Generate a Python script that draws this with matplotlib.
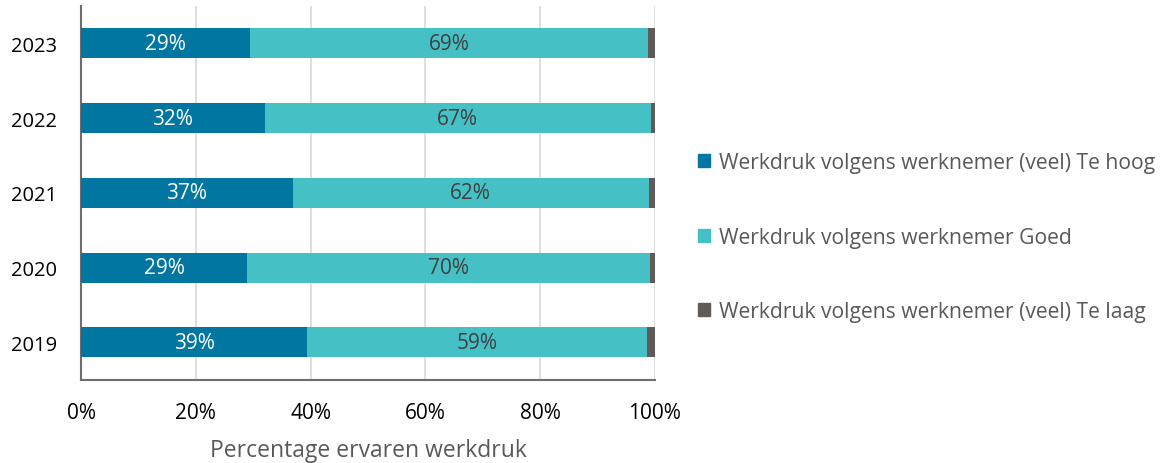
import matplotlib.pyplot as plt
from matplotlib.patches import Patch

plt.rcParams['font.family'] = ['Open Sans', 'DejaVu Sans']

# data
jaren = ['2019', '2020', '2021', '2022', '2023']
te_hoog = [39.4, 29.0, 36.9, 32.0, 29.4]
goed = [59.2, 70.1, 62.0, 67.3, 69.4]
te_laag = [1.4, 0.9, 1.1, 0.7, 1.2]
reeksen = ['Werkdruk volgens werknemer (veel) Te hoog',
           'Werkdruk volgens werknemer Goed',
           'Werkdruk volgens werknemer (veel) Te laag']

kleuren = ['#0076A0', '#45C1C6', '#605B58']
tekstkleur = ['white', '#404040', None]

fig = plt.figure(figsize=(11.65, 4.64), dpi=100)
ax = fig.add_axes([81 / 1165, 1 - 380.7 / 464, (655 - 81) / 1165, (380.7 - 7) / 464])

links = [0] * len(jaren)
for naam, waarden, kleur, tk in zip(reeksen, [te_hoog, goed, te_laag], kleuren, tekstkleur):
    bars = ax.barh(jaren, waarden, left=links, height=0.4, color=kleur, zorder=3)
    if tk:
        ax.bar_label(bars, labels=[f'{round(v)}%' for v in waarden], label_type='center',
                     color=tk, fontsize=15)
    links = [a + b for a, b in zip(links, waarden)]

ax.set_xlim(0, 100)
ax.set_ylim(-0.5, 4.5)
ax.set_xticks(range(0, 101, 20))
ax.set_xticklabels([f'{x}%' for x in range(0, 101, 20)])
ax.tick_params(axis='both', length=0, labelsize=15, colors='black')
ax.tick_params(axis='y', labelsize=14.5, pad=17)
ax.tick_params(axis='x', pad=16)
ax.grid(axis='x', color='#D9D9D9', lw=1.2, zorder=0)
ax.spines['top'].set_visible(False)
ax.spines['right'].set_visible(False)
ax.spines['left'].set_color('#6E6E6E')
ax.spines['bottom'].set_color('#6E6E6E')
ax.spines['left'].set_linewidth(1.5)
ax.spines['bottom'].set_linewidth(1.5)
ax.set_xlabel('Percentage ervaren werkdruk', fontsize=16.5, color='#595959', labelpad=10.5)

handles = [Patch(color=k, label=n) for k, n in zip(kleuren, reeksen)]
fig.legend(handles=handles, loc='center left', bbox_to_anchor=(0.599, 0.487),
           frameon=False, fontsize=15.2, labelcolor='#595959', handlelength=0.58,
           handleheight=0.58, handletextpad=0.42, labelspacing=2.55,
           borderpad=0, borderaxespad=0)

fig.savefig('out.png', dpi=100)
